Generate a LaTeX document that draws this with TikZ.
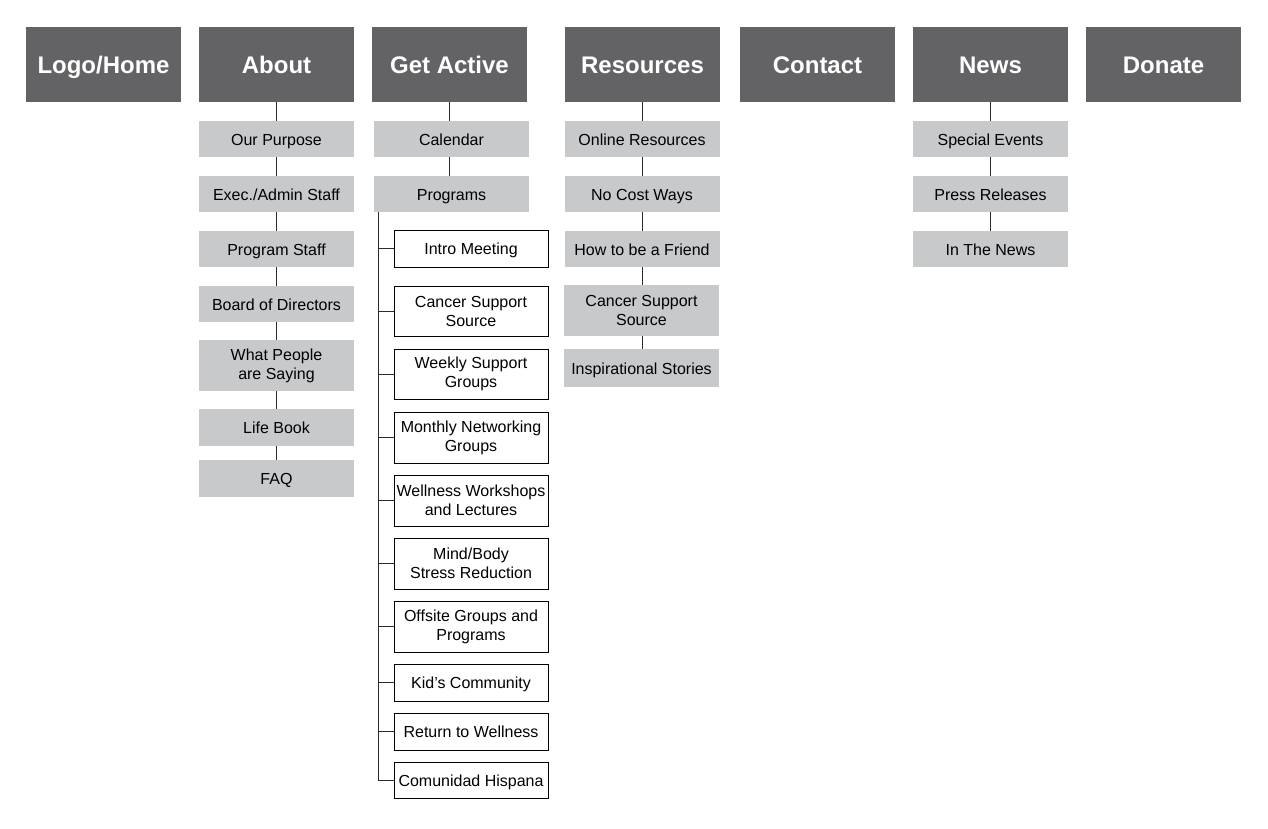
\documentclass[tikz,border=0pt]{standalone}
\usepackage{fontspec}
\setmainfont{Liberation Sans}
\definecolor{topgray}{HTML}{636365}
\definecolor{subgray}{HTML}{C8C9CB}
\definecolor{linegray}{HTML}{2A2A2A}
\begin{document}
\begin{tikzpicture}[x=1pt,y=-1pt,
  topbox/.style={rectangle,fill=topgray,text=white,inner sep=0pt,minimum width=155pt,minimum height=75pt,text height=22pt,text depth=4pt,font=\fontsize{24}{27}\selectfont\bfseries},
  subbox/.style={rectangle,fill=subgray,text=black,inner sep=0pt,minimum width=155pt,minimum height=36pt,align=center,font=\fontsize{16}{19}\selectfont},
  progbox/.style={rectangle,draw=black,line width=0.9pt,fill=white,text=black,inner sep=0pt,minimum width=154pt,minimum height=37pt,align=center,font=\fontsize{16}{19}\selectfont},
  one/.style={text height=15pt,text depth=3pt},
  conn/.style={draw=linegray,line width=0.9pt}]
\useasboundingbox[fill=white] (0,0) rectangle (1268,828);
% top level
\node[topbox] (logo) at (103.5,64.5) {Logo/Home};
\node[topbox] (about) at (276.5,64.5) {About};
\node[topbox] (ga) at (449.5,64.5) {Get Active};
\node[topbox] (res) at (642.5,64.5) {Resources};
\node[topbox] (contact) at (817.5,64.5) {Contact};
\node[topbox] (news) at (990.5,64.5) {News};
\node[topbox] (donate) at (1163.5,64.5) {Donate};
% About
\node[subbox,one] (op) at (276.5,139) {Our Purpose};
\node[subbox,one] (exec) at (276.5,194) {Exec./Admin Staff};
\node[subbox,one] (ps) at (276.5,249) {Program Staff};
\node[subbox,one] (bod) at (276.5,304) {Board of Directors};
\node[subbox,minimum height=51pt] (wps) at (276.5,365.5) {What People\\are Saying};
\node[subbox,one,minimum height=37pt] (lb) at (276.5,427.5) {Life Book};
\node[subbox,one,minimum height=37pt] (faq) at (276.5,478.5) {FAQ};
\draw[conn] (about.south) -- (op.north);
\draw[conn] (op.south) -- (exec.north);
\draw[conn] (exec.south) -- (ps.north);
\draw[conn] (ps.south) -- (bod.north);
\draw[conn] (bod.south) -- (wps.north);
\draw[conn] (wps.south) -- (lb.north);
\draw[conn] (lb.south) -- (faq.north);
% Get Active
\node[subbox,one] (cal) at (451.5,139) {Calendar};
\node[subbox,one] (prog) at (451.5,194) {Programs};
\draw[conn] (ga.south) -- (ga.south |- cal.north);
\draw[conn] (ga.south |- cal.south) -- (ga.south |- prog.north);
\node[progbox,one] (intro) at (471,248.5) {Intro Meeting};
\node[progbox,minimum height=50pt] (css) at (471,311) {Cancer Support\\Source};
\node[progbox,minimum height=50pt] (weekly) at (471,374) {Weekly Support\\Groups};
\node[progbox,minimum height=51pt] (monthly) at (471,437.5) {Monthly Networking\\Groups};
\node[progbox,minimum height=51pt] (well) at (471,500.5) {Wellness Workshops\\and Lectures};
\node[progbox,minimum height=51pt] (mind) at (471,563.5) {Mind/Body\\Stress Reduction};
\node[progbox,minimum height=51pt] (off) at (471,626.5) {Offsite Groups and\\Programs};
\node[progbox,one] (kids) at (471,682.5) {Kid’s Community};
\node[progbox,one] (ret) at (471,731.5) {Return to Wellness};
\node[progbox,one,minimum height=36pt] (com) at (471,780) {Comunidad Hispana};
\coordinate (trunk) at (378,212);
\draw[conn] (trunk) |- (com.west);
\foreach \n in {intro,css,weekly,monthly,well,mind,off,kids,ret}
  \draw[conn] (trunk |- \n.west) -- (\n.west);
% Resources
\node[subbox,one] (online) at (642,139) {Online Resources};
\node[subbox,one] (nocost) at (642,194) {No Cost Ways};
\node[subbox,one] (howto) at (642,249) {How to be a Friend};
\node[subbox,minimum height=51pt] (css2) at (641.5,310.5) {Cancer Support\\Source};
\node[subbox,one,minimum height=38pt] (insp) at (641.5,368) {Inspirational Stories};
\draw[conn] (res.south) -- (res.south |- online.north);
\draw[conn] (res.south |- online.south) -- (res.south |- nocost.north);
\draw[conn] (res.south |- nocost.south) -- (res.south |- howto.north);
\draw[conn] (res.south |- howto.south) -- (res.south |- css2.north);
\draw[conn] (res.south |- css2.south) -- (res.south |- insp.north);
% News
\node[subbox,one] (special) at (990.5,139) {Special Events};
\node[subbox,one] (press) at (990.5,194) {Press Releases};
\node[subbox,one] (inn) at (990.5,249) {In The News};
\draw[conn] (news.south) -- (special.north);
\draw[conn] (special.south) -- (press.north);
\draw[conn] (press.south) -- (inn.north);
\end{tikzpicture}
\end{document}
